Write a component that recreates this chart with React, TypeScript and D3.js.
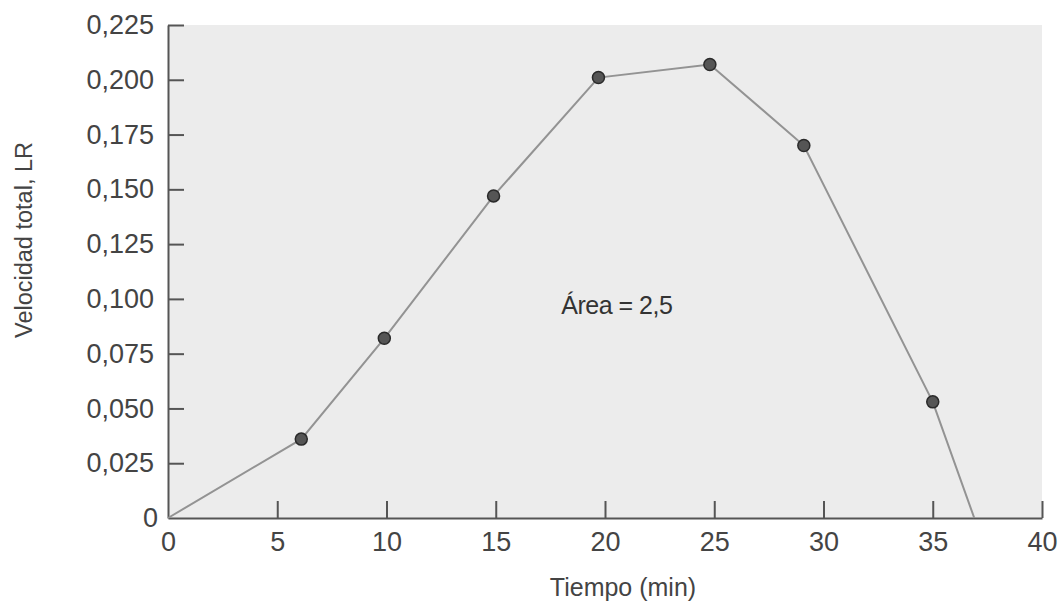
import { useEffect, useRef } from "react";
import * as d3 from "d3";

const tiempo = [0, 6.1, 9.9, 14.9, 19.7, 24.8, 29.1, 35.0, 36.9];
const velocidad = [0, 0.036, 0.082, 0.147, 0.201, 0.207, 0.17, 0.053, 0];
// the end points (0 and 36.9) have no marker
const marked = [false, true, true, true, true, true, true, true, false];
const xTicks = [0, 5, 10, 15, 20, 25, 30, 35, 40];
const yTicks = [0, 0.025, 0.05, 0.075, 0.1, 0.125, 0.15, 0.175, 0.2, 0.225];
const areaLabel = "Área = 2,5";

const font = "'Liberation Sans', Arial, sans-serif";

function App() {
  const ref = useRef<SVGSVGElement>(null);

  useEffect(() => {
    const svg = d3.select(ref.current);
    svg.selectAll("*").remove();
    const width = 1064;
    const height = 605;
    const margin = { top: 25, right: 22, bottom: 87, left: 168 };

    const x = d3
      .scaleLinear()
      .domain([0, 40])
      .range([margin.left, width - margin.right]);
    const y = d3
      .scaleLinear()
      .domain([0, 0.225])
      .range([height - margin.bottom, margin.top]);

    svg
      .append("rect")
      .attr("x", x(0))
      .attr("y", y(0.225))
      .attr("width", x(40) - x(0))
      .attr("height", y(0) - y(0.225))
      .attr("fill", "#ececec");

    const fmt = (d: number) => (d === 0 ? "0" : d3.format(".3f")(d).replace(".", ","));

    const yAxis = svg
      .append("g")
      .attr("transform", `translate(${x(0)},0)`)
      .call(
        d3
          .axisLeft(y)
          .tickValues(yTicks)
          .tickSizeInner(-16)
          .tickSizeOuter(0)
          .tickPadding(14)
          .tickFormat((d) => fmt(d as number))
      );

    const xAxis = svg
      .append("g")
      .attr("transform", `translate(0,${y(0)})`)
      .call(
        d3
          .axisBottom(x)
          .tickValues(xTicks)
          .tickSizeInner(-17)
          .tickSizeOuter(0)
          .tickPadding(14)
          .tickFormat((d) => String(d))
      );

    [yAxis, xAxis].forEach((g) => {
      g.select(".domain").attr("stroke", "#555").attr("stroke-width", 2);
      g.selectAll(".tick line").attr("stroke", "#555").attr("stroke-width", 2);
      g.selectAll(".tick text")
        .attr("fill", "#444")
        .attr("font-family", font)
        .attr("font-size", 27);
    });
    xAxis.selectAll(".tick line").filter((d) => d === 0).remove();
    yAxis.selectAll(".tick line").filter((d) => d === 0).remove();
    yAxis.selectAll(".tick text").filter((d) => d === 0).attr("dx", "0.15em");

    const pts = tiempo.map((t, i) => ({ t, v: velocidad[i], m: marked[i] }));

    const line = d3
      .line<{ t: number; v: number }>()
      .x((d) => x(d.t))
      .y((d) => y(d.v));

    svg
      .append("path")
      .datum(pts)
      .attr("d", line)
      .attr("fill", "none")
      .attr("stroke", "#939393")
      .attr("stroke-width", 2);

    svg
      .selectAll(".dot")
      .data(pts.filter((d) => d.m))
      .join("circle")
      .attr("class", "dot")
      .attr("cx", (d) => x(d.t))
      .attr("cy", (d) => y(d.v))
      .attr("r", 6)
      .attr("fill", "#555")
      .attr("stroke", "#2a2a2a")
      .attr("stroke-width", 1.5);

    svg
      .append("text")
      .attr("x", x(18))
      .attr("y", y(0.093))
      .attr("font-family", font)
      .attr("font-size", 25)
      .attr("letter-spacing", -0.5)
      .attr("fill", "#333")
      .text(areaLabel);

    svg
      .append("text")
      .attr("x", 623)
      .attr("y", 596)
      .attr("text-anchor", "middle")
      .attr("font-family", font)
      .attr("font-size", 25)
      .attr("fill", "#444")
      .text("Tiempo (min)");

    svg
      .append("text")
      .attr("transform", "translate(32,240) rotate(-90)")
      .attr("text-anchor", "middle")
      .attr("font-family", font)
      .attr("font-size", 23.5)
      .attr("fill", "#444")
      .text("Velocidad total, LR");
  }, []);

  return (
    <svg
      ref={ref}
      width={1064}
      height={605}
      style={{ position: "absolute", left: 0, top: 0, background: "#fff" }}
    />
  );
}

export default App;
